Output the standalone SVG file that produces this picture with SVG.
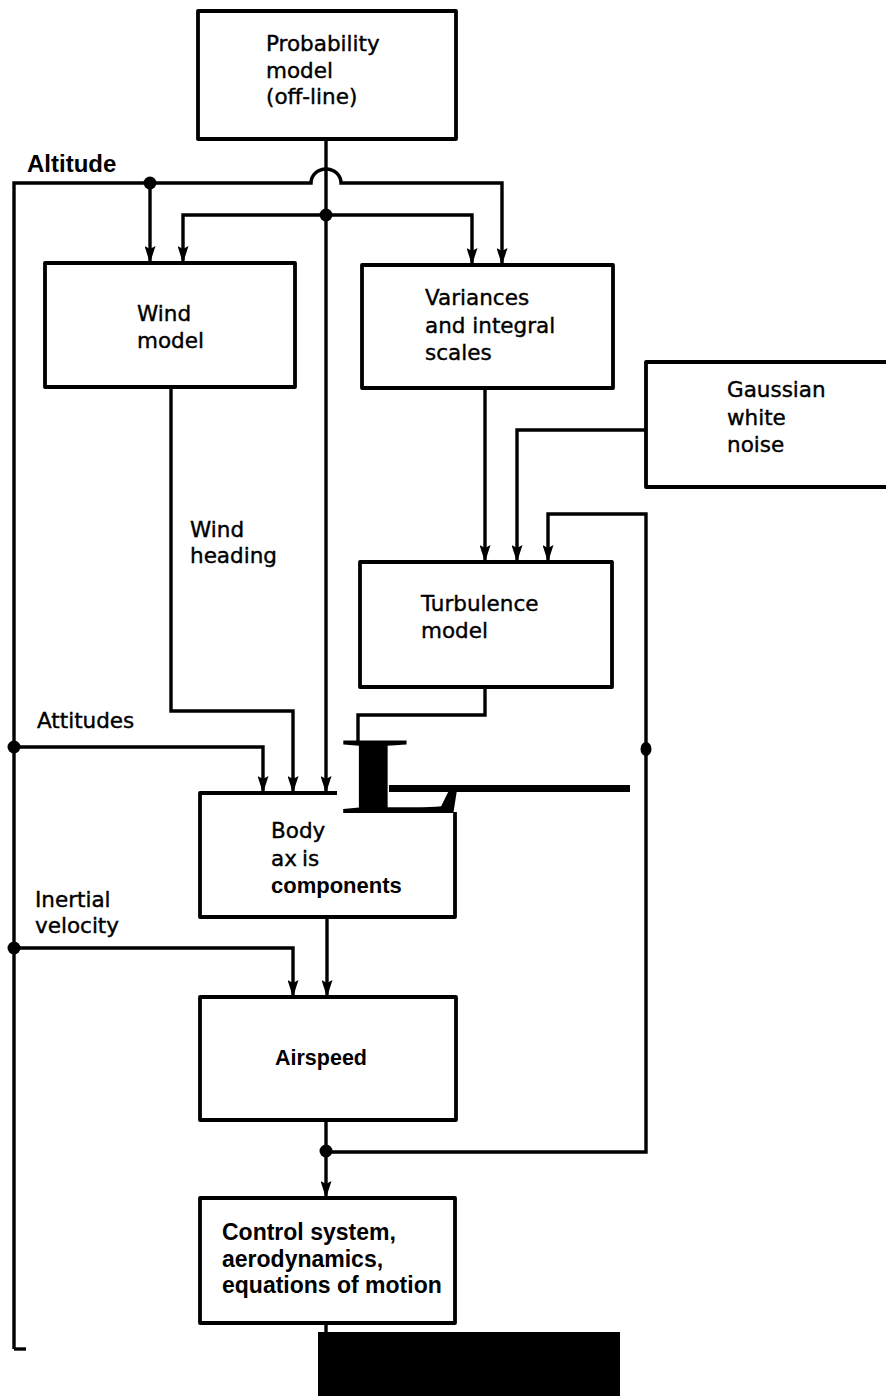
<svg xmlns="http://www.w3.org/2000/svg" width="886" height="1396" viewBox="0 0 886 1396">
<style>
.box{fill:none;stroke:#000;stroke-width:3.8;stroke-linejoin:round}
.ln{fill:none;stroke:#000;stroke-width:3.4}
.ar{marker-end:url(#ah)}
.t{font-family:"DejaVu Sans",sans-serif;font-size:21.5px;fill:#000;stroke:#000;stroke-width:0.4}
.tb{font-family:"Liberation Sans",Arial,sans-serif;font-weight:bold;font-size:23px;fill:#000}
.dot{fill:#000}
</style>
<defs>
<marker id="ah" markerUnits="userSpaceOnUse" markerWidth="17" markerHeight="11" refX="17" refY="5.5" orient="auto">
<path d="M0,0 L17,5.5 L0,11 L3,5.5 Z" fill="#000"/>
</marker>
</defs>
<rect width="886" height="1396" fill="#fff"/>

<g id="connectors">
<path class="ln" d="M14,1349 H26"/>
<path class="ln" d="M14,1349 V183 H311 A15,14 0 0 1 341,183 H502 V265" marker-end="url(#ah)"/>
<path class="ln ar" d="M150,183 V263"/>
<path class="ln ar" d="M326,139 V793"/>
<path class="ln ar" d="M326,215 H183 V263"/>
<path class="ln ar" d="M326,215 H472 V265"/>
<path class="ln ar" d="M171,387 V711 H293 V793"/>
<path class="ln ar" d="M14,747 H263 V793"/>
<path class="ln ar" d="M485,388 V562"/>
<path class="ln ar" d="M646,430 H517 V562"/>
<path class="ln ar" d="M326,1152 H646 V514 H548 V562"/>
<path class="ln" d="M485,687 V715 H358 V745"/>
<path class="ln ar" d="M14,948 H293 V997"/>
<path class="ln ar" d="M327,917 V997"/>
<path class="ln ar" d="M326,1120 V1198"/>
<path class="ln" d="M326,1323 V1334"/>
<circle class="dot" cx="150" cy="183" r="6.5"/>
<circle class="dot" cx="326" cy="215" r="6.5"/>
<circle class="dot" cx="14" cy="747" r="6.5"/>
<circle class="dot" cx="14" cy="948" r="6.5"/>
<ellipse class="dot" cx="646" cy="749" rx="5.5" ry="7"/>
<circle class="dot" cx="326" cy="1151" r="6.5"/>
</g>

<g id="probability-model">
<rect class="box" x="198" y="11" width="258" height="128"/>
<text class="t" x="266" y="51">Probability</text>
<text class="t" x="266" y="78">model</text>
<text class="t" x="266" y="104">(off-line)</text>
</g>

<text id="altitude-label" class="tb" x="27" y="172" style="font-size:24px">Altitude</text>

<g id="wind-model">
<rect class="box" x="45" y="263" width="250" height="124"/>
<text class="t" x="137" y="321">Wind</text>
<text class="t" x="137" y="348">model</text>
</g>

<g id="variances">
<rect class="box" x="362" y="265" width="251" height="123"/>
<text class="t" x="425" y="305">Variances</text>
<text class="t" x="425" y="333">and integral</text>
<text class="t" x="425" y="360">scales</text>
</g>

<g id="gaussian-white-noise">
<rect class="box" x="646" y="362" width="260" height="125"/>
<text class="t" x="727" y="397">Gaussian</text>
<text class="t" x="727" y="425">white</text>
<text class="t" x="727" y="452">noise</text>
</g>

<text id="wind-heading-label" class="t"><tspan x="190" y="537">Wind</tspan><tspan x="190" y="563">heading</tspan></text>

<g id="turbulence-model">
<rect class="box" x="360" y="562" width="252" height="125"/>
<text class="t" x="421" y="611">Turbulence</text>
<text class="t" x="421" y="638">model</text>
</g>

<text id="attitudes-label" class="t" x="37" y="728">Attitudes</text>

<g id="body-axis">
<path class="box" d="M337,793 H200 V917 H455 V812"/>
<text class="t" x="271" y="838">Body</text>
<text class="t" x="271" y="866">ax<tspan dx="5">is</tspan></text>
<text class="tb" x="271" y="893" style="font-size:22px">components</text>
</g>

<g id="artifact">
<text x="0" y="0" transform="translate(340,813) scale(1.7,1)" style="font-family:'Liberation Serif','Times New Roman',serif;font-weight:bold;font-size:110px;fill:#000">L</text>
<rect x="389" y="785" width="241" height="7" fill="#000"/>
</g>

<text id="inertial-label" class="t"><tspan x="35" y="907">Inertial</tspan><tspan x="35" y="933">velocity</tspan></text>

<g id="airspeed">
<rect class="box" x="200" y="997" width="256" height="123"/>
<text class="tb" x="275" y="1065" style="font-size:21.5px">Airspeed</text>
</g>

<g id="control-system">
<rect class="box" x="200" y="1198" width="255" height="125"/>
<text class="tb" x="222" y="1240">Control system,</text>
<text class="tb" x="222" y="1267">aerodynamics,</text>
<text class="tb" x="222" y="1293">equations of motion</text>
</g>

<rect id="black-block" x="318" y="1332" width="302" height="64" fill="#000"/>
</svg>
